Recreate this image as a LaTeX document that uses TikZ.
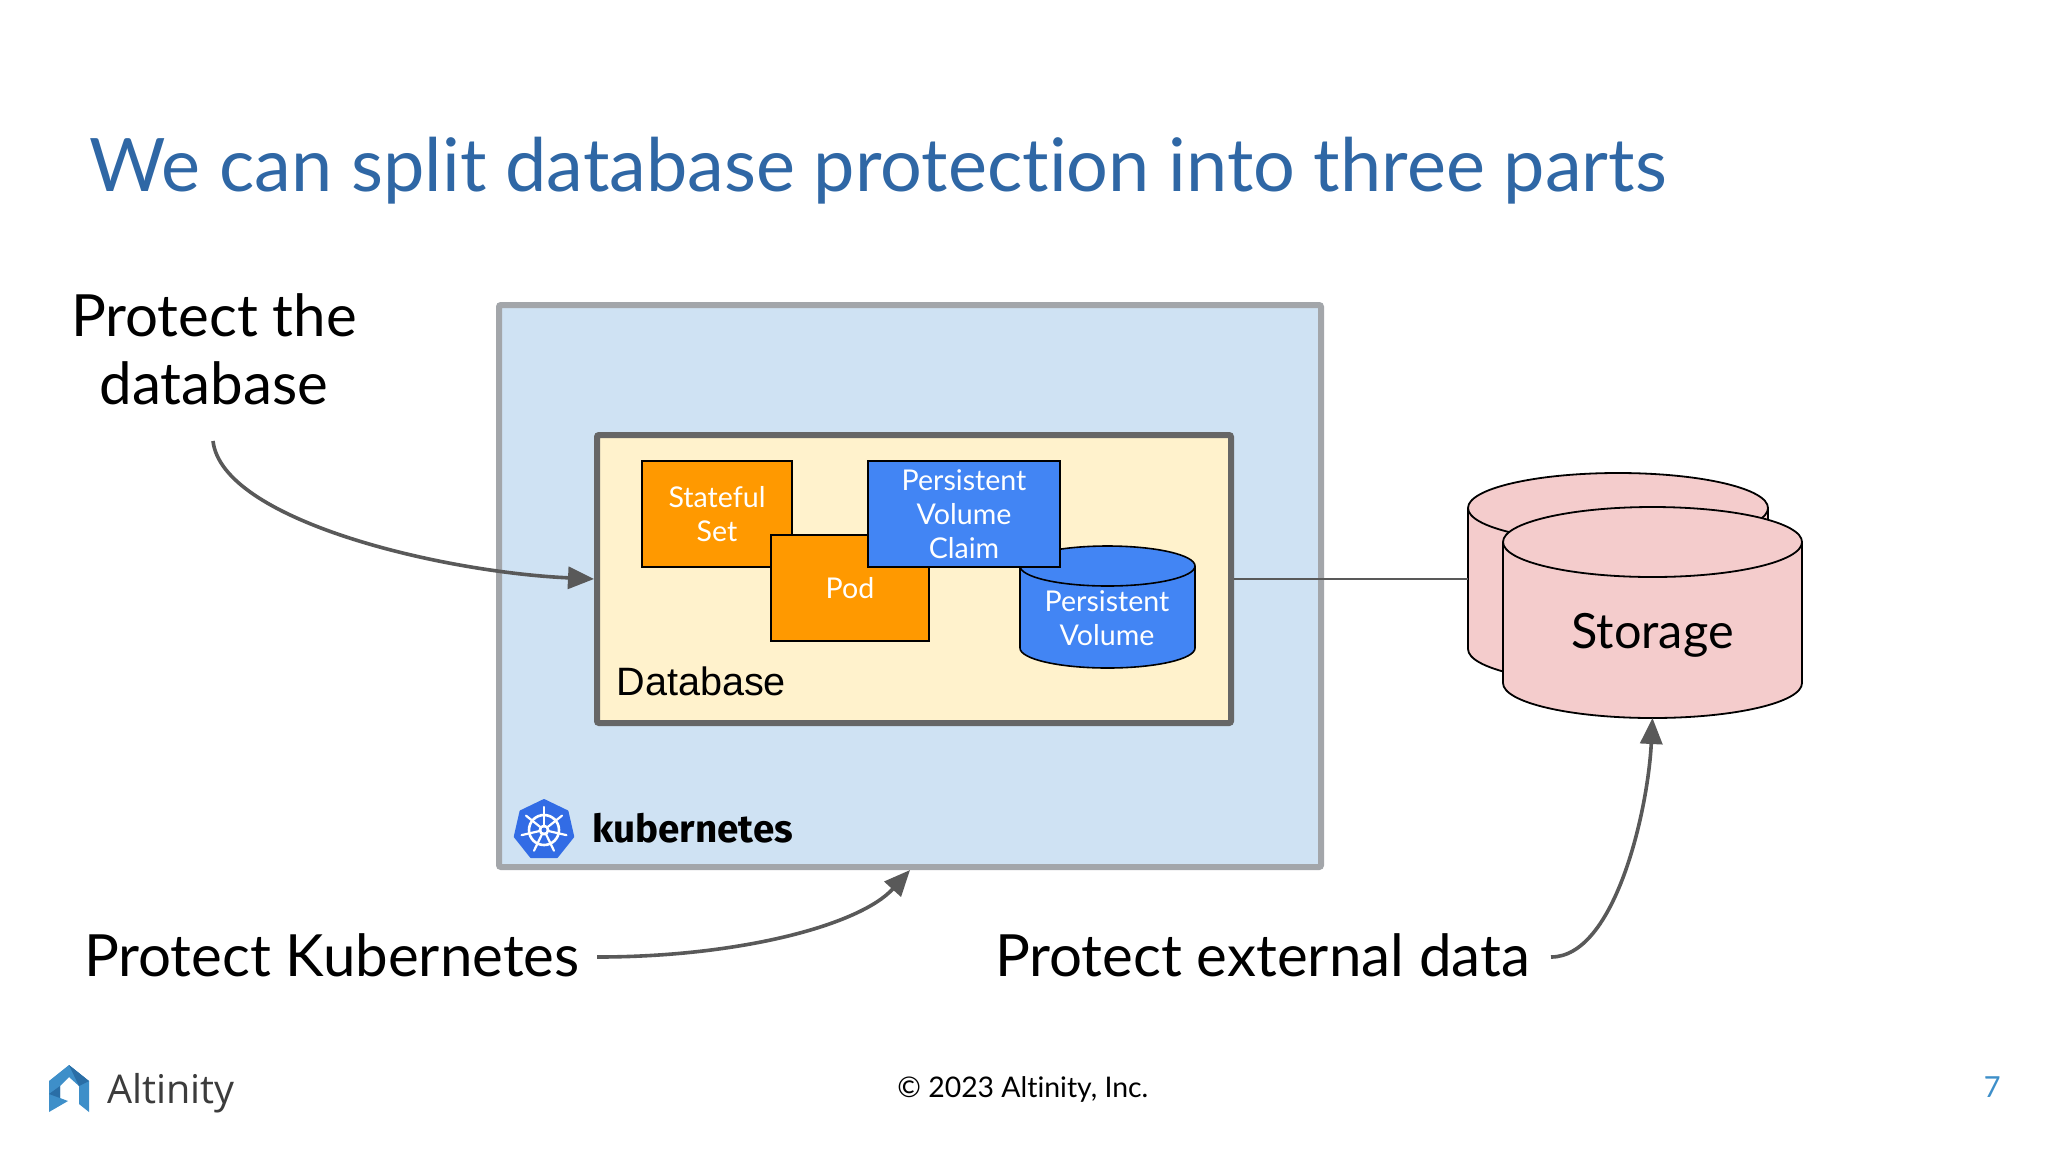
\documentclass[tikz,border=0pt]{standalone}
\usepackage{fontspec}
\setmainfont{Lato}[Ligatures=NoCommon]
\newfontfamily\kubefont{Fira Sans}
\newfontfamily\altfont{Open Sans}
\newfontfamily\arialfont{Liberation Sans}
\usetikzlibrary{arrows.meta,shapes.geometric}
\definecolor{titleblue}{HTML}{2F67A5}
\definecolor{kubefill}{HTML}{CFE2F3}
\definecolor{kubeline}{HTML}{A3A6AA}
\definecolor{dbfill}{HTML}{FFF2CC}
\definecolor{dbline}{HTML}{666666}
\definecolor{orangebox}{HTML}{FF9900}
\definecolor{bluebox}{HTML}{4285F4}
\definecolor{pinkbox}{HTML}{F4CCCC}
\definecolor{arrowgray}{HTML}{595959}
\definecolor{kubelogo}{HTML}{326CE5}
\definecolor{altblue}{HTML}{3E8FC9}
\definecolor{altdark}{HTML}{2A6EA6}
\definecolor{alttext}{HTML}{3C3C3C}
\tikzset{
  x=0.5pt,y=-0.5pt,
  lbl/.style={inner sep=0pt,outer sep=0pt,font=\fontsize{29.1}{35}\selectfont,text=black},
  smalltxt/.style={font=\fontsize{14.3}{17}\selectfont,text=white,align=center,inner sep=0pt},
  box/.style={draw=black,line width=0.8pt,smalltxt,outer sep=0pt},
  cyl/.style={draw=black,line width=#1,line join=round},
  frame/.style={rectangle,line width=3pt,rounded corners=1pt,inner sep=0pt},
  curve/.style={draw=arrowgray,line width=1.8pt,-{Triangle[length=13pt,width=11pt]}},
  anchorbox/.style={inner sep=0pt,outer sep=0pt,rectangle},
}
\begin{document}
\begin{tikzpicture}
\useasboundingbox (0,0) rectangle (2048,1152);
\fill[white] (0,0) rectangle (2048,1152);

% title
\node[anchor=base west,inner sep=0pt,text=titleblue,font=\fontsize{36.9}{44}\selectfont] (title) at (89,191) {We can split database protection into three parts};

% kubernetes frame
\node[frame,draw=kubeline,fill=kubefill,minimum width=411pt,minimum height=281pt,outer sep=1.5pt,anchor=north west] (k8s) at (496,302) {};
% database frame
\node[frame,draw=dbline,fill=dbfill,minimum width=317pt,minimum height=144pt,outer sep=1.5pt,anchor=north west] (db) at (594,432) {};

% stateful set / pod
\node[box,fill=orangebox,minimum width=75pt,minimum height=53pt,anchor=north west] (sts) at (642,461) {Stateful\\Set};
\node[box,fill=orangebox,minimum width=79pt,minimum height=53pt,anchor=north west] (pod) at (771,535) {Pod};

% persistent volume
\draw[cyl=0.8pt,fill=bluebox] (1020,566) arc[start angle=180,end angle=0,x radius=87.5,y radius=-20] -- (1195,648) arc[start angle=0,end angle=-180,x radius=87.5,y radius=-20] -- cycle;
\draw[cyl=0.8pt] (1020,566) arc[start angle=180,end angle=360,x radius=87.5,y radius=-20];
\node[smalltxt] (pv) at (1107,618) {Persistent\\Volume};

% persistent volume claim
\node[box,fill=bluebox,minimum width=96pt,minimum height=53pt,anchor=north west] (pvc) at (868,461) {Persistent\\Volume\\Claim};

\node[anchor=base west,inner sep=0pt,font=\arialfont\fontsize{19.8}{24}\selectfont] (dblabel) at (616,695) {Database};

% back storage cylinder
\draw[cyl=0.9pt,fill=pinkbox] (1468,508) arc[start angle=180,end angle=0,x radius=150,y radius=-35] -- (1768,649) arc[start angle=0,end angle=-180,x radius=150,y radius=-35] -- cycle;
\draw[cyl=0.9pt] (1468,508) arc[start angle=180,end angle=360,x radius=150,y radius=-35];
\node[anchorbox,minimum width=150pt,minimum height=105.5pt] (backstore) at (1618,578.5) {};
% front storage cylinder
\draw[cyl=0.9pt,fill=pinkbox] (1503,542) arc[start angle=180,end angle=0,x radius=149.5,y radius=-35] -- (1802,683) arc[start angle=0,end angle=-180,x radius=149.5,y radius=-35] -- cycle;
\draw[cyl=0.9pt] (1503,542) arc[start angle=180,end angle=360,x radius=149.5,y radius=-35];
\node[anchorbox,minimum width=149.5pt,minimum height=105.5pt] (frontstore) at (1652.5,612.5) {};
\node[anchor=base,inner sep=0pt,font=\fontsize{24.3}{29}\selectfont] (storelabel) at (1652.5,648) {Storage};

% db to storage
\draw[arrowgray,line width=0.75pt] (db.east) -- (db.east -| backstore.west);

% kubernetes logo
\node[regular polygon,regular polygon sides=7,minimum size=30pt,inner sep=0pt,fill=kubelogo,draw=kubelogo,line width=1pt,line join=round] (kubeicon) at (544,830) {};
\begin{scope}[shift={(kubeicon.center)}]
  \draw[white,line width=1.3pt] (0,0) circle[radius=15];
  \fill[white] (0,0) circle[radius=5.5];
  \fill[kubelogo] (0,0) circle[radius=2.5];
  \foreach \a in {0,...,6}
    \draw[white,line width=1.1pt,line cap=round] (-90+\a*51.43:5) -- (-90+\a*51.43:23);
\end{scope}
\node[anchor=base west,inner sep=0pt,font=\kubefont\bfseries\fontsize{19.3}{23}\selectfont] (kubelabel) at (592,842) {kubernetes};

% labels
\node[lbl,anchor=base] (lab1a) at (214,336) {Protect the};
\node[lbl,anchor=base] (lab1b) at (214,404) {database};
\node[lbl,anchor=base west] (lab2) at (84,976) {Protect Kubernetes};
\node[lbl,anchor=base west] (lab3) at (995,976) {Protect external data};

% curved connectors
\coordinate (c1) at (213,441);
\draw[curve] (c1) .. controls (222,520) and (440,572) .. (db.west);
\coordinate (c2) at (597,957);
\draw[curve] (c2) .. controls (740,957) and (860,925) .. (k8s.south);
\coordinate (c3) at (1551,957);
\draw[curve] (c3) .. controls (1615,957) and (1648,810) .. (frontstore.south);

% footer
\node[anchor=base west,inner sep=0pt,font=\fontsize{14.2}{17}\selectfont] (copy) at (897,1097) {© 2023 Altinity, Inc.};
\node[anchor=base east,inner sep=0pt,text=altblue,font=\fontsize{14.5}{17}\selectfont] (page) at (2001,1097) {7};

% altinity logo
\fill[altblue] (69,1065) -- (89,1081) -- (89,1112) -- (79,1104) -- (79,1086) -- (69,1077) -- (60,1086) -- (60,1098) -- (68,1101) -- (49,1112) -- (49,1081) -- cycle;
\fill[altdark] (49,1094) -- (60,1086) -- (60,1098) -- cycle;
\fill[altdark] (69,1065) -- (89,1081) -- (79,1086) -- cycle;
\node[anchor=base west,inner sep=0pt,text=alttext,font=\altfont\fontsize{19.8}{24}\selectfont] (altname) at (107,1103) {Altinity};
\end{tikzpicture}
\end{document}
